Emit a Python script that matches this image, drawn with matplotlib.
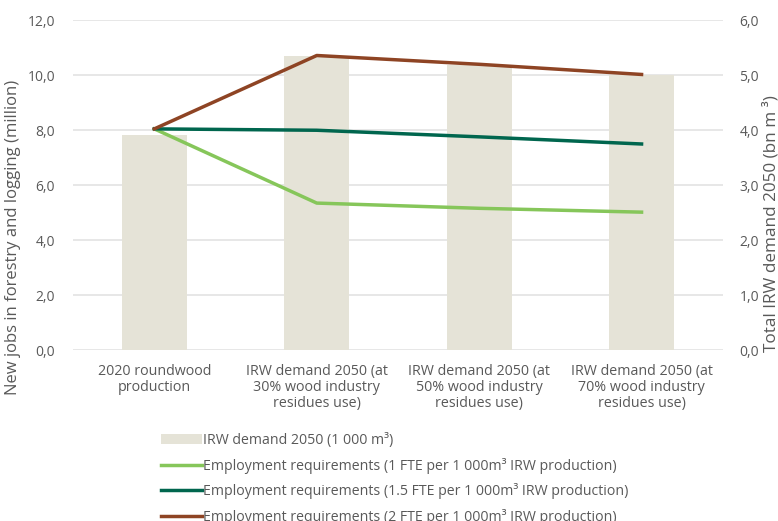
import numpy as np
from matplotlib import pyplot as plt

plt.rcParams['font.family'] = ['Open Sans', 'DejaVu Sans']

categories = ["2020 roundwood\nproduction",
              "IRW demand 2050 (at\n30% wood industry\nresidues use)",
              "IRW demand 2050 (at\n50% wood industry\nresidues use)",
              "IRW demand 2050 (at\n70% wood industry\nresidues use)"]
irw_demand = [3.91, 5.35, 5.18, 5.00]          # bn m3, right axis
jobs_1fte = [8.05, 5.35, 5.16, 5.02]            # million, left axis
jobs_15fte = [8.05, 8.00, 7.76, 7.50]
jobs_2fte = [8.05, 10.72, 10.40, 10.03]

grey = "#595959"
x = np.arange(len(categories))

fig = plt.figure(figsize=(7.78, 5.21), dpi=100)
ax = fig.add_axes([0.094, 0.328, 0.835, 0.633])
ax2 = ax.twinx()

for a in (ax, ax2):
    for s in a.spines.values():
        s.set_visible(False)
    a.tick_params(length=0, colors=grey, labelsize=10)

ax.set_zorder(ax2.get_zorder() + 1)
ax.patch.set_visible(False)

ax2.set_ylim(0, 6)
ax2.set_yticks(np.arange(0, 6.1, 1))
ax2.set_yticklabels([f"{v:.1f}".replace(".", ",") for v in np.arange(0, 6.1, 1)])
ax2.yaxis.grid(True, color="#e3e3e3", linewidth=1.2, zorder=0)
ax2.set_axisbelow(True)
bars = ax2.bar(x, irw_demand, width=0.4, color="#e5e3d7", zorder=2,
               label="IRW demand 2050 (1 000 m³)")
ax2.set_ylabel("Total IRW demand 2050 (bn m ³)", color=grey, fontsize=12.3)
ax2.yaxis.set_label_coords(1.062, 0.385)

ax.set_ylim(0, 12)
ax.set_xlim(-0.5, 3.5)
ax.set_yticks(np.arange(0, 12.1, 2))
ax.set_yticklabels([f"{v:.1f}".replace(".", ",") for v in np.arange(0, 12.1, 2)])
ax.tick_params(axis="y", pad=13)
ax2.tick_params(axis="y", pad=12)
l1, = ax.plot(x, jobs_1fte, color="#86c65a", linewidth=2.5,
              label="Employment requirements (1 FTE per 1 000m³ IRW production)")
l2, = ax.plot(x, jobs_15fte, color="#00664e", linewidth=2.5,
              label="Employment requirements (1.5 FTE per 1 000m³ IRW production)")
l3, = ax.plot(x, jobs_2fte, color="#8e4424", linewidth=2.5,
              label="Employment requirements (2 FTE per 1 000m³ IRW production)")
ax.set_ylabel("New jobs in forestry and logging (million)", color=grey, fontsize=12)
ax.yaxis.set_label_coords(-0.08, 0.342)

ax.set_xticks(x)
ax.set_xticklabels(categories, fontsize=10.3, color=grey, linespacing=1.1)
ax.tick_params(axis="x", pad=10)

leg = fig.legend([bars, l1, l2, l3], [bars.get_label(), l1.get_label(), l2.get_label(), l3.get_label()],
                 loc="upper left", bbox_to_anchor=(0.2, 0.18), frameon=False,
                 fontsize=10.2, labelcolor=grey, handlelength=2.9, handletextpad=0.05,
                 labelspacing=0.68, borderaxespad=0)

fig.savefig("out.png", dpi=100)
